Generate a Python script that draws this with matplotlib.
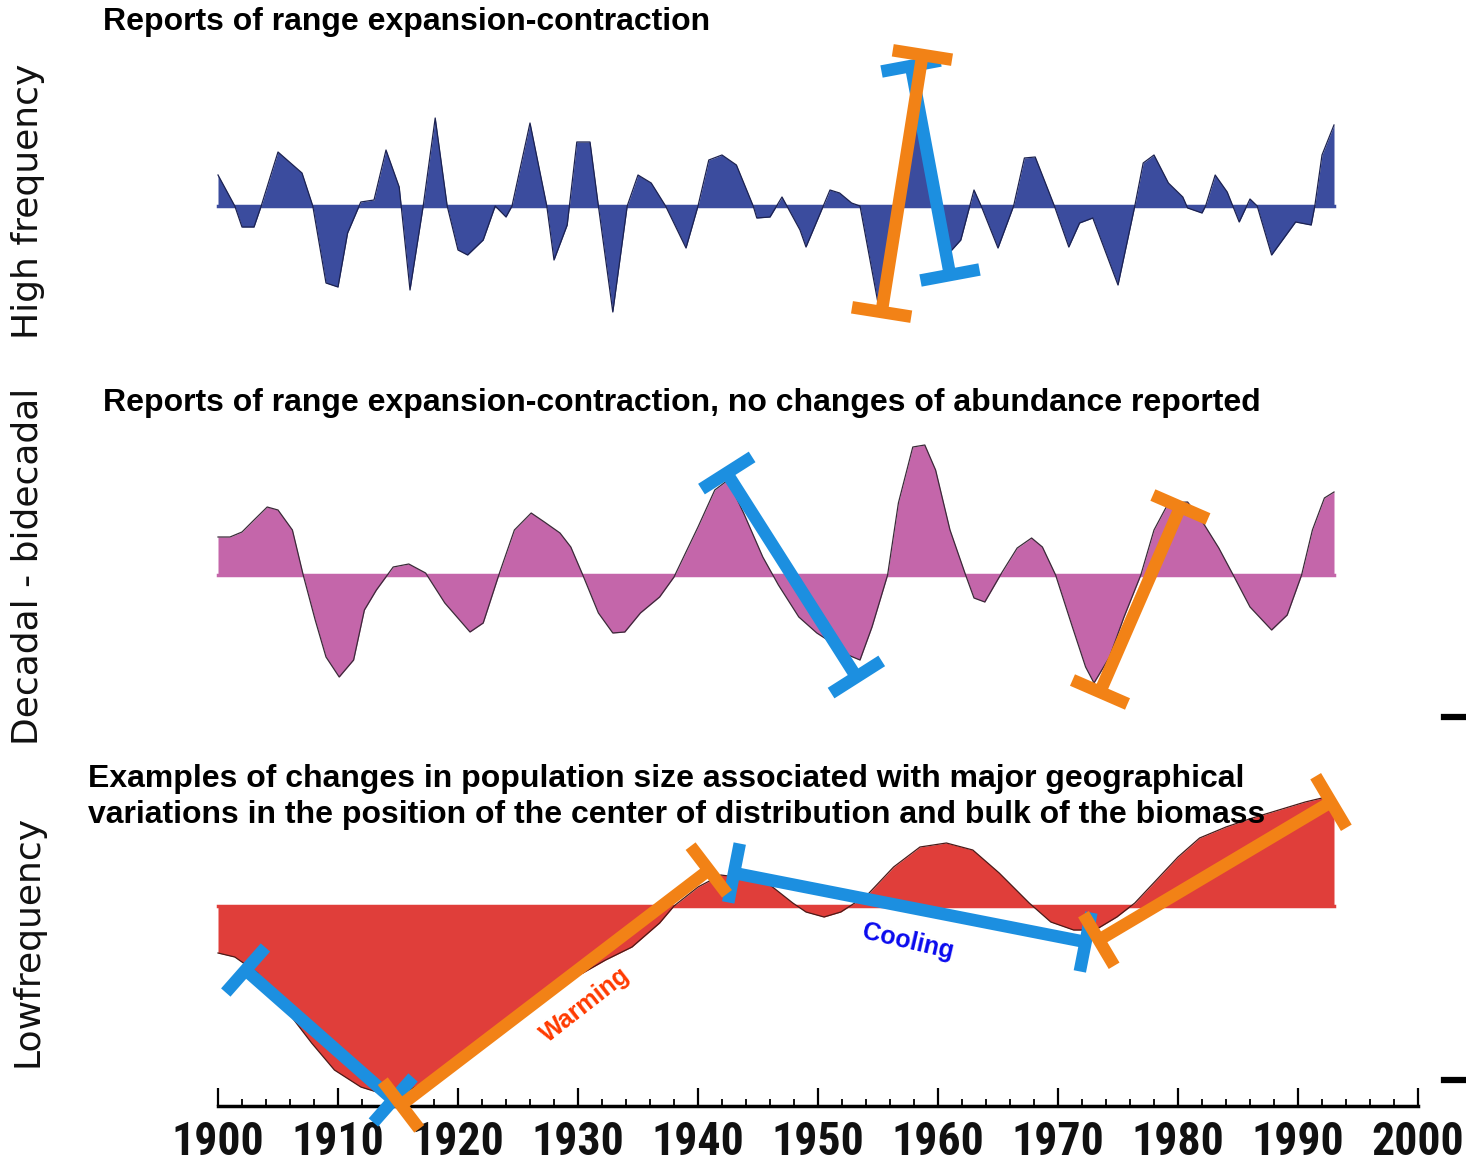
import matplotlib
matplotlib.use('Agg')
import matplotlib.pyplot as plt
import numpy as np
from matplotlib import font_manager

# --- data (anomaly units, arbitrary) ---
hf_years = [1900.0, 1901.4, 1902.0, 1903.0, 1903.6, 1905.0, 1907.0, 1907.9, 1909.0, 1910.0,
            1910.8, 1911.9, 1913.0, 1914.0, 1915.1, 1916.0, 1917.1, 1918.1, 1919.1, 1920.0,
            1920.8, 1922.1, 1923.1, 1924.0, 1924.5, 1926.0, 1927.4, 1928.0, 1929.1, 1929.9,
            1931.0, 1931.7, 1932.9, 1934.1, 1935.0, 1936.1, 1937.3, 1939.0, 1940.0, 1940.9,
            1942.0, 1943.2, 1944.6, 1944.9, 1946.0, 1947.0, 1948.5, 1949.0, 1951.0, 1951.8,
            1952.8, 1953.5, 1955.0, 1955.3, 1958.5, 1961.0, 1961.9, 1963.0, 1963.6, 1965.0,
            1966.3, 1967.2, 1968.1, 1969.7, 1970.9, 1971.8, 1972.9, 1975.0, 1976.4, 1977.1,
            1978.0, 1979.2, 1980.4, 1980.8, 1982.0, 1982.3, 1983.1, 1984.1, 1985.1, 1986.0,
            1986.6, 1987.8, 1989.8, 1991.1, 1991.4, 1992.0, 1993.0]
hf_vals = [31, 0, -21, -21, 0, 54, 33, 0, -77, -81,
           -27, 4, 6, 56, 19, -84, 0, 88, 0, -44,
           -49, -34, 0, -11, 0, 83, 0, -54, -19, 64,
           64, 0, -106, 0, 31, 23, 0, -42, 0, 46,
           51, 41, 0, -12, -11, 9, -24, -41, 16, 13,
           3, 0, -97, -100, 108, -46, -34, 16, 0, -42,
           0, 48, 49, 0, -41, -17, -12, -79, 0, 43,
           51, 23, 9, -2, -7, 0, 31, 14, -16, 7,
           0, -49, -16, -19, 0, 51, 81]

dec_years = [1900.0, 1901.0, 1902.0, 1903.0, 1904.1, 1905.0, 1906.2, 1907.1, 1908.1, 1909.0,
             1910.1, 1911.3, 1912.2, 1913.2, 1914.6, 1915.9, 1917.3, 1918.9, 1921.0, 1922.1,
             1923.4, 1924.7, 1926.1, 1927.2, 1928.5, 1929.4, 1930.4, 1931.7, 1932.9, 1933.9,
             1935.2, 1936.8, 1938.0, 1940.0, 1941.4, 1942.5, 1943.8, 1945.4, 1946.7, 1948.4,
             1949.9, 1950.8, 1952.1, 1953.5, 1954.5, 1955.8, 1956.7, 1957.9, 1958.9, 1959.8,
             1961.0, 1962.3, 1963.0, 1963.9, 1965.3, 1966.6, 1967.8, 1968.7, 1969.8, 1971.2,
             1972.3, 1973.0, 1974.3, 1975.5, 1976.9, 1978.0, 1979.2, 1980.8, 1982.1, 1983.4,
             1984.6, 1986.0, 1987.8, 1989.1, 1990.3, 1991.2, 1992.2, 1993.0]
dec_vals = [38, 38, 43, 55, 68, 65, 45, 0, -45, -82,
            -102, -85, -35, -15, 8, 11, 2, -28, -57, -48,
            0, 45, 62, 53, 42, 28, 0, -38, -58, -57,
            -38, -22, -2, 48, 85, 95, 62, 18, -10, -42,
            -58, -65, -78, -85, -52, 0, 72, 128, 130, 105,
            45, 0, -23, -27, 2, 27, 37, 28, 0, -52,
            -92, -108, -82, -42, 0, 45, 72, 73, 52, 27,
            0, -32, -55, -40, 0, 45, 77, 83]

low_years = [1900.0, 1901.4, 1903.3, 1905.5, 1907.8, 1909.7, 1911.9, 1913.5, 1914.8, 1917.6,
             1920.8, 1924.0, 1927.2, 1930.4, 1932.3, 1934.5, 1936.8, 1938.0, 1940.0, 1941.9,
             1943.8, 1946.0, 1947.9, 1949.0, 1950.5, 1951.9, 1954.1, 1956.3, 1958.5, 1960.7,
             1962.9, 1965.1, 1967.6, 1969.4, 1971.3, 1973.1, 1974.9, 1976.4, 1978.2, 1980.0,
             1981.8, 1984.0, 1986.2, 1988.4, 1990.6, 1992.0, 1993.0]
low_vals = [-47, -51, -67, -101, -137, -164, -181, -187, -191, -174,
            -147, -117, -84, -67, -54, -41, -17, 0, 19, 31,
            28, 21, 3, -6, -11, -6, 11, 39, 59, 63,
            56, 33, 3, -16, -24, -24, -11, 3, 26, 49,
            68, 79, 88, 96, 104, 108, 106]

# trend bars (start, end) in (year, anomaly)
hf_bars = [((1957.75, 140), (1961.0, -69), 'blue'),
           ((1955.3, -106), (1958.7, 151), 'orange')]
dec_bars = [((1942.4, 102), (1953.2, -102), 'blue'),
            ((1973.5, -117), (1980.2, 68), 'orange')]
low_bars = [((1902.3, -64), (1914.6, -194), 'blue'),
            ((1943.0, 33), (1972.3, -36), 'blue'),
            ((1915.25, -199), (1940.9, 36), 'orange'),
            ((1973.4, -34), (1992.75, 104), 'orange')]

titles = ["Reports of range expansion-contraction",
          "Reports of range expansion-contraction, no changes of abundance reported",
          "Examples of changes in population size associated with major geographical\n"
          "variations in the position of the center of distribution and bulk of the biomass"]
side_labels = ["High frequency", "Decadal - bidecadal", "Lowfrequency"]

bar_colors = {'blue': '#1C8FE0', 'orange': '#F28216'}

# pick a condensed face for the year labels if one is around
installed = {f.name for f in font_manager.fontManager.ttflist}
tick_family = 'Liberation Sans'
for cand in ['Liberation Sans Narrow', 'DejaVu Sans Condensed', 'Roboto Condensed']:
    if cand in installed:
        tick_family = cand
        break
tick_size = {'Liberation Sans Narrow': 35, 'DejaVu Sans Condensed': 30,
             'Roboto Condensed': 33}.get(tick_family, 28)

W, H = 1466, 1161
fig = plt.figure(figsize=(W / 100, H / 100), dpi=100)
fig.patch.set_facecolor('white')

xlim = (1900 - 218 / 12, 1900 + (W - 218) / 12)


def band_axes(top, bottom, base):
    ax = fig.add_axes([0, 1 - bottom / H, 1, (bottom - top) / H])
    ax.set_xlim(*xlim)
    ax.set_ylim(base - bottom, base - top)
    ax.patch.set_visible(False)
    for s in ax.spines.values():
        s.set_visible(False)
    ax.set_xticks([])
    ax.set_yticks([])
    return ax


def draw_bar(ax, p0, p1, color, lw=9, cap=60):
    tr = ax.transData
    a = tr.transform(p0)
    b = tr.transform(p1)
    d = (b - a) / np.hypot(*(b - a))
    n = np.array([-d[1], d[0]]) * cap / 2
    inv = tr.inverted()
    for s, e in [(a, b), (a - n, a + n), (b - n, b + n)]:
        pts = inv.transform(np.array([s, e]))
        ax.plot(pts[:, 0], pts[:, 1], color=color, lw=lw,
                solid_capstyle='butt', clip_on=False, zorder=5)


def panel(ax, years, vals, fill, edge):
    ax.fill_between(years, vals, 0, color=fill, lw=0)
    ax.plot([years[0], years[-1]], [0, 0], color=fill, lw=2.5)
    ax.plot(years, vals, color=edge, lw=0.9)


ax1 = band_axes(0, 380, 206)
ax2 = band_axes(380, 745, 575)
ax3 = band_axes(745, 1161, 906)

panel(ax1, hf_years, hf_vals, '#3B4C9E', '#1c2250')
panel(ax2, dec_years, dec_vals, '#C466AA', '#3a2a38')
panel(ax3, low_years, low_vals, '#E03E3A', '#4a1a18')

for ax, bars in [(ax1, hf_bars), (ax2, dec_bars), (ax3, low_bars)]:
    for p0, p1, c in bars:
        draw_bar(ax, p0, p1, bar_colors[c])

ax3.text(1930.6, -99, "Warming", color='#FF3A00', fontsize=18, fontweight='bold',
         rotation=38, ha='center', va='center', rotation_mode='anchor',
         family='Liberation Sans', zorder=6)
ax3.text(1957.5, -36, "Cooling", color='#0A0AEE', fontsize=18, fontweight='bold',
         rotation=-13, ha='center', va='center', rotation_mode='anchor',
         family='Liberation Sans', zorder=6)

# time axis
sp = ax3.spines['bottom']
sp.set_visible(True)
sp.set_position(('data', -200))
sp.set_bounds(1900, 2000)
sp.set_linewidth(2.5)
ax3.set_xticks(range(1900, 2001, 10))
ax3.set_xticks(range(1900, 2001, 2), minor=True)
ax3.tick_params(axis='x', which='major', direction='in', length=13, width=1.6, pad=10,
                labelsize=tick_size)
ax3.tick_params(axis='x', which='minor', direction='in', length=5, width=1.3)
for lbl in ax3.get_xticklabels():
    lbl.set_fontfamily(tick_family)
    lbl.set_fontweight('bold')
    lbl.set_color('#111111')

# titles and side labels
fig.text(103 / W, 1 - 22 / H, titles[0], fontsize=23, fontweight='bold',
         family='Liberation Sans', ha='left', va='center')
fig.text(103 / W, 1 - 403 / H, titles[1], fontsize=23, fontweight='bold',
         family='Liberation Sans', ha='left', va='center')
fig.text(88 / W, 1 - 797 / H, titles[2], fontsize=23, fontweight='bold',
         family='Liberation Sans', ha='left', va='center', linespacing=1.25)

for lab, yc in zip(side_labels, [201, 566, 941]):
    fig.text(28 / W, 1 - yc / H, lab, fontsize=26, rotation=90,
             ha='center', va='center', color='#111111')

# small marks at the right edge
for yp in [717, 1080]:
    fig.add_artist(plt.Line2D([1444 / W, 1466 / W], [1 - yp / H, 1 - yp / H],
                              color='black', lw=4.5, transform=fig.transFigure))

fig.savefig('out.png', dpi=100, facecolor='white')
